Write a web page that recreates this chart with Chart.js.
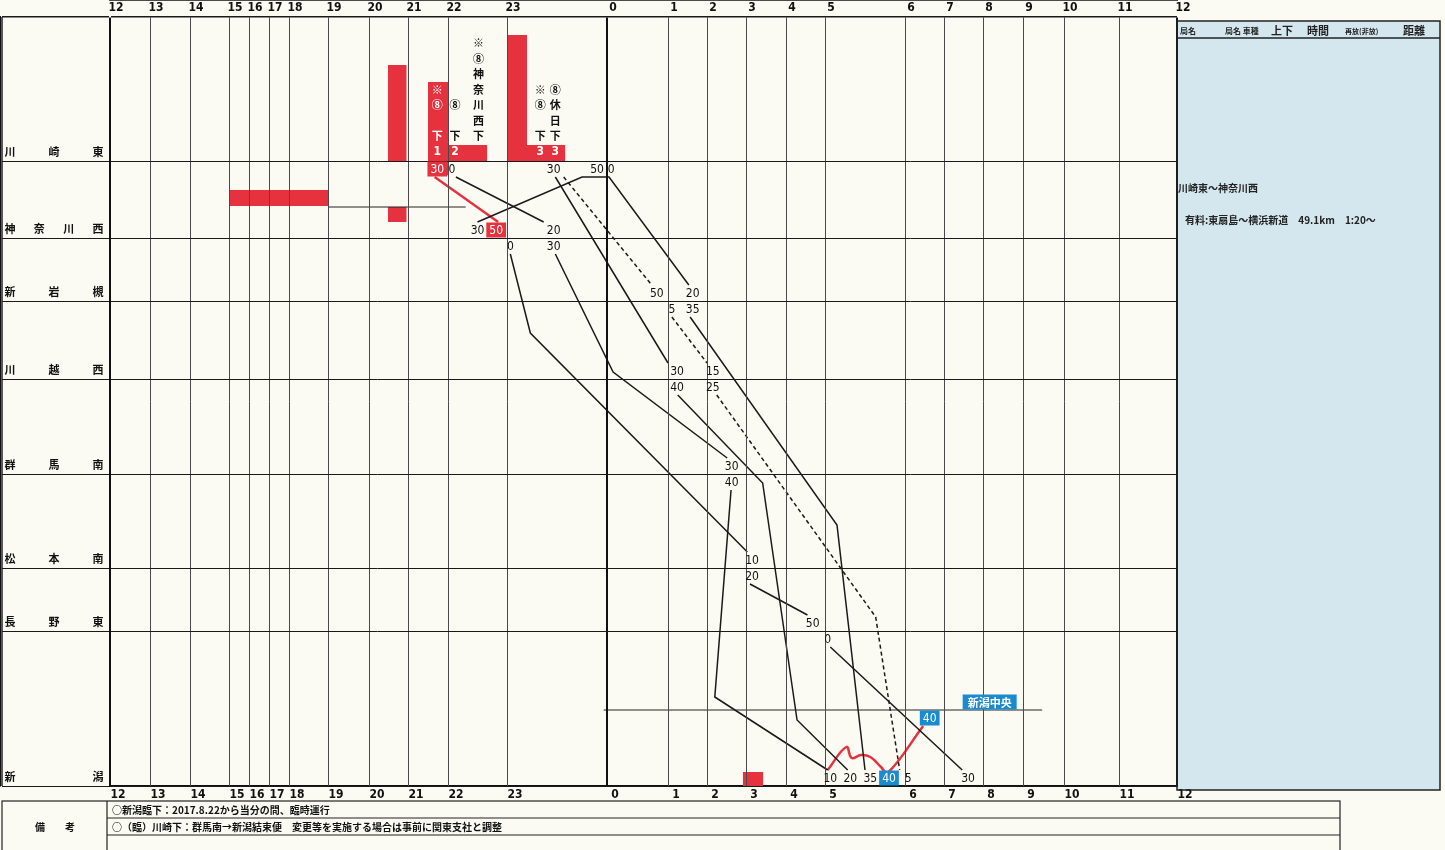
<!DOCTYPE html>
<html lang="ja">
<head>
<meta charset="utf-8">
<title>ダイヤグラム 川崎東～新潟</title>
<script src="https://cdn.jsdelivr.net/npm/chart.js@4.4.1/dist/chart.umd.min.js"></script>
<style>
  html, body { margin: 0; padding: 0; background: #fbfbf4; }
  #wrap { width: 1445px; height: 850px; }
</style>
</head>
<body>
<div id="wrap"><canvas id="dia" width="1445" height="850"></canvas></div>
<script>
// Hour columns, 12:00 -> next day 12:00 (columns are not equal width on the sheet)
const hourLabels = ['12','13','14','15','16','17','18','19','20','21','22','23','0','1','2','3','4','5','6','7','8','9','10','11','12'];
const hourWidths = [40,40,39,20,20,20,39,41,39,40,59,100,61,39,39,40,39,80,39,39,40,41,55,58];

// Stations down the sheet and their distance on the diagram
const stations   = ['川崎東','神奈川西','新岩槻','川越西','群馬南','松本南','長野東','新潟中央','新潟'];
const stationPos = [144, 221, 284, 362, 457, 551, 614, 693, 769];

// Train paths: [time, station or diagram position, side] ; null = pen lifted
const rinjiRed = [['21:40','川崎東','d'], ['22:51','神奈川西','u']];
const rinjiBlack = [['23:02','神奈川西','d'], ['23:14',316], ['3:02','松本南','u'], null,
                    ['3:06','松本南','d'], ['4:33','長野東','u'], null,
                    ['5:04','長野東','d'], ['7:28','新潟','u']];
const down2 = [['22:08','川崎東','d'], ['23:22','神奈川西','u'], null,
               ['23:29','神奈川西','d'], ['0:06',355], ['2:31','群馬南','u'], null,
               ['2:37','群馬南','d'], ['2:12',680], ['5:02','新潟','u']];
const down3 = [['23:29','川崎東','d'], ['1:00','川越西','u'], null,
               ['1:15','川越西','d'], ['3:25',466], ['4:17',703], ['5:17','新潟','u']];
const down3Holiday = [['23:34','川崎東','d'], ['0:44','新岩槻','u'], null,
                      ['1:06','新岩槻','d'], ['2:00','川越西','u'], null,
                      ['2:15','川越西','d'], ['5:38',600], ['5:56','新潟','u']];
const viaKanagawa = [['22:30','神奈川西','u'], ['23:45','川崎東','d'], ['0:02','川崎東','d'], ['1:32','新岩槻','u'], null,
                     ['1:34','新岩槻','d'], ['5:09',508], ['5:30','新潟','u']];
const chuoShuttle = [['5:02','新潟','u'], ['5:16',730], ['5:20',741], ['5:27',738], ['5:34',740],
                     ['5:42',750], ['5:47',756], ['6:28','新潟中央','d']];
const guideLine = [['19:00',190], ['22:18',190]];
const chuoLine  = [['23:58','新潟中央'], ['9:28','新潟中央']];

// Red blocks: [from, to, top, bottom]
const redBlocks = [
  ['20:29','20:58', 48, 144],
  ['20:29','20:58', 190, 205],
  ['21:30','22:00', 65, 158],
  ['22:00','22:40', 128, 144],
  ['23:00','23:12', 18, 144],
  ['23:12','23:35', 128, 144],
  ['15:00','19:00', 173, 189],
  ['2:55','3:26', 755, 769]
];

// Minute labels: [time, station, side, text, box]
const minuteLabels = [
  ['21:44','川崎東','d','30','red'], ['22:04','川崎東','d','0'], ['23:28','川崎東','d','30'],
  ['23:54','川崎東','d','50'], ['0:04','川崎東','d','0'],
  ['22:30','神奈川西','u','30'], ['22:49','神奈川西','u','50','red'], ['23:28','神奈川西','u','20'],
  ['23:02','神奈川西','d','0'], ['23:28','神奈川西','d','30'],
  ['0:49','新岩槻','u','50'], ['1:38','新岩槻','u','20'], ['1:06','新岩槻','d','5'], ['1:38','新岩槻','d','35'],
  ['1:14','川越西','u','30'], ['2:09','川越西','u','15'], ['1:14','川越西','d','40'], ['2:09','川越西','d','25'],
  ['2:38','群馬南','u','30'], ['2:38','群馬南','d','40'],
  ['3:09','松本南','u','10'], ['3:09','松本南','d','20'],
  ['4:41','長野東','u','50'], ['5:02','長野東','d','0'],
  ['5:04','新潟','u','10'], ['5:19','新潟','u','20'], ['5:34','新潟','u','35'], ['5:48','新潟','u','40','blue'],
  ['6:05','新潟','u','5'], ['7:37','新潟','u','30'],
  ['6:38','新潟中央','d','40','blue'], ['8:10','新潟中央','u','新潟中央','blue']
];

// Vertical notes above 川崎東 (7 rows, top to bottom) and train numbers
const noteCols = [
  ['21:44', '　　　※⑧　下', '#fff'],
  ['22:07', '　　　　⑧　下', '#111'],
  ['22:31', '※⑧神奈川西下', '#111'],
  ['23:20', '　　　※⑧　下', '#111'],
  ['23:29', '　　　⑧休日下', '#111']
];
const trainNos = [['21:44','1'], ['22:07','2'], ['23:20','3'], ['23:29','3']];

const remarks = [
  '○新潟臨下：2017.8.22から当分の間、臨時運行',
  '○（臨）川崎下：群馬南→新潟結束便　変更等を実施する場合は事前に関東支社と調整'
];

const RED = '#e5323e';
const BLUE = '#1b8bd0';
const GAP = 16;   // room left between a line end and its station line
const LBL = 8;    // minute label distance from station line
const NUM_FONT = '"Liberation Sans Narrow", "DejaVu Sans Condensed", sans-serif';
const JP_FONT = '"Noto Sans CJK JP", sans-serif';

const hourEdges = hourWidths.reduce((a, w) => { a.push(a[a.length - 1] + w); return a; }, [0]);
const X_MAX = hourEdges[hourEdges.length - 1];
const Y_MAX = stationPos[stationPos.length - 1];

// time "H:MM" -> position on the x axis
function tx(t) {
  const [h, m] = t.split(':').map(Number);
  const i = (h + 12) % 24;
  return hourEdges[i] + hourWidths[i] * m / 60;
}

function py(st, side, off) {
  if (typeof st === 'number') return st;
  const p = stationPos[stations.indexOf(st)];
  if (side === 'u') return p - off;
  if (side === 'd') return p + off;
  return p;
}

function toPoints(path) {
  let lastX = 0;
  return path.map(p => {
    if (!p) return { x: lastX, y: null };
    lastX = tx(p[0]);
    return { x: lastX, y: py(p[1], p[2], GAP) };
  });
}

function lineSet(path, color, width, dash, tension) {
  return {
    type: 'line', data: toPoints(path), borderColor: color, borderWidth: width,
    borderDash: dash || [], pointRadius: 0, tension: tension || 0, fill: false, order: 0
  };
}

const datasets = [];
redBlocks.forEach(b => {
  datasets.push({
    type: 'line',
    data: [{ x: tx(b[0]), y: b[2] }, { x: tx(b[1]), y: b[2] }],
    fill: { value: b[3] }, backgroundColor: RED, borderWidth: 0, pointRadius: 0, order: 2
  });
});
datasets.push(lineSet(guideLine, '#222', 1));
datasets.push(lineSet(chuoLine, '#222', 1));
datasets.push(lineSet(rinjiBlack, '#1a1a1a', 1.5));
datasets.push(lineSet(down2, '#1a1a1a', 1.5));
datasets.push(lineSet(down3, '#1a1a1a', 1.5));
datasets.push(lineSet(down3Holiday, '#1a1a1a', 1.5, [4, 3]));
datasets.push(lineSet(viaKanagawa, '#1a1a1a', 1.5));
datasets.push(lineSet(rinjiRed, RED, 2.5));
datasets.push(lineSet(chuoShuttle, RED, 2.5, null, 0.4));

function isHeavyHour(i) {
  return i === 0 || i === hourLabels.length - 1 || hourLabels[i] === '0';
}

const diagramDecor = {
  id: 'diagramDecor',
  beforeDraw(chart) {
    const { ctx } = chart;
    const a = chart.chartArea;
    ctx.save();
    ctx.fillStyle = '#fbfbf4';
    ctx.fillRect(0, 0, chart.width, chart.height);
    ctx.fillStyle = '#d4e7ef';
    ctx.fillRect(a.right, 21, 1440 - a.right, 769);
    ctx.restore();
  },
  afterDraw(chart) {
    const { ctx } = chart;
    const a = chart.chartArea;
    const xs = chart.scales.x, ys = chart.scales.y;
    ctx.save();

    // info panel on the right
    ctx.strokeStyle = '#222';
    ctx.lineWidth = 1.5;
    ctx.strokeRect(a.right, 21, 1440 - a.right, 769);
    ctx.beginPath(); ctx.moveTo(a.right, 38); ctx.lineTo(1440, 38); ctx.stroke();
    ctx.fillStyle = '#222';
    ctx.textBaseline = 'alphabetic';
    ctx.textAlign = 'left';
    ctx.font = 'bold 8px ' + JP_FONT;
    ctx.fillText('局名', 1180, 34);
    ctx.fillText('局名 車種', 1225, 34);
    ctx.font = 'bold 7px ' + JP_FONT;
    ctx.fillText('再放(非放)', 1345, 34);
    ctx.font = 'bold 11px ' + JP_FONT;
    ctx.fillText('上下', 1271, 35);
    ctx.fillText('時間', 1307, 35);
    ctx.fillText('距離', 1403, 35);
    ctx.font = 'bold 10px ' + JP_FONT;
    ctx.fillText('川崎東～神奈川西', 1178, 192);
    ctx.fillText('有料:東扇島～横浜新道　49.1km　1:20～', 1185, 224);

    // left column frame + station names
    ctx.lineWidth = 1.5;
    ctx.beginPath(); ctx.moveTo(2, a.top); ctx.lineTo(2, a.bottom); ctx.stroke();
    ctx.font = 'bold 11px ' + JP_FONT;
    ctx.textAlign = 'center';
    ctx.textBaseline = 'middle';
    ctx.fillStyle = '#111';
    stations.forEach((s, i) => {
      if (s === '新潟中央') return;
      const chars = [...s];
      const y = ys.getPixelForValue(stationPos[i]) - 9;
      chars.forEach((c, k) => ctx.fillText(c, 10 + k * 88 / (chars.length - 1), y));
    });

    // vertical notes above 川崎東
    noteCols.forEach(([t, txt, color]) => {
      const x = xs.getPixelForValue(tx(t));
      ctx.fillStyle = color;
      [...txt].forEach((c, i) => {
        if (c === '　') return;
        ctx.fillText(c, x, ys.getPixelForValue(stationPos[0] - 25 - (6 - i) * 15.5));
      });
    });
    ctx.font = 'bold 12px ' + NUM_FONT;
    ctx.fillStyle = '#fff';
    trainNos.forEach(([t, n]) => {
      ctx.fillText(n, xs.getPixelForValue(tx(t)), ys.getPixelForValue(stationPos[0] - 9));
    });

    // minute labels
    minuteLabels.forEach(([t, st, side, txt, box]) => {
      const x = xs.getPixelForValue(tx(t));
      const y = ys.getPixelForValue(py(st, side, LBL));
      const jp = /[^\d]/.test(txt);
      ctx.font = jp ? 'bold 11px ' + JP_FONT : '12px ' + NUM_FONT;
      if (box) {
        const w = ctx.measureText(txt).width + (jp ? 10 : 6);
        ctx.fillStyle = box === 'red' ? RED : BLUE;
        ctx.fillRect(x - w / 2, y - 7.5, w, 15);
        ctx.fillStyle = '#fff';
      } else {
        ctx.fillStyle = '#111';
      }
      ctx.fillText(txt, x, y + 0.5);
    });

    // remarks table
    ctx.strokeStyle = '#222';
    ctx.lineWidth = 1.2;
    ctx.strokeRect(2, 801, 1338, 60);
    ctx.beginPath();
    ctx.moveTo(107, 801); ctx.lineTo(107, 850);
    ctx.moveTo(107, 818); ctx.lineTo(1340, 818);
    ctx.moveTo(107, 835); ctx.lineTo(1340, 835);
    ctx.stroke();
    ctx.fillStyle = '#111';
    ctx.font = 'bold 10px ' + JP_FONT;
    ctx.fillText('備　　考', 55, 827);
    ctx.textAlign = 'left';
    remarks.forEach((r, i) => ctx.fillText(r, 112, 810 + i * 17));
    ctx.restore();
  }
};

const hourTicks = scale => { scale.ticks = hourEdges.map(v => ({ value: v })); };

new Chart(document.getElementById('dia'), {
  type: 'line',
  data: { datasets: datasets },
  options: {
    responsive: false,
    animation: false,
    events: [],
    layout: { padding: { left: 0, right: 268, top: 0, bottom: 0 } },
    plugins: { legend: { display: false }, tooltip: { enabled: false } },
    scales: {
      x: {
        type: 'linear', position: 'top', min: 0, max: X_MAX,
        afterBuildTicks: hourTicks,
        afterFit: s => { s.height = 17; },
        grid: {
          z: 1, drawTicks: false,
          color: c => isHeavyHour(c.index) ? '#111' : '#4a4a4a',
          lineWidth: c => isHeavyHour(c.index) ? 2 : 1
        },
        border: { color: '#111', width: 1.5 },
        ticks: {
          autoSkip: false, maxRotation: 0, padding: 2, labelOffset: 6, color: '#111',
          font: { family: NUM_FONT, size: 12, weight: 'bold' },
          callback: (v, i) => hourLabels[i]
        }
      },
      x2: {
        type: 'linear', position: 'bottom', min: 0, max: X_MAX,
        afterBuildTicks: hourTicks,
        afterFit: s => { s.height = 64; },
        grid: { display: false, drawTicks: false },
        border: { color: '#111', width: 2 },
        ticks: {
          autoSkip: false, maxRotation: 0, padding: 2, labelOffset: 8, color: '#111',
          font: { family: NUM_FONT, size: 12, weight: 'bold' },
          callback: (v, i) => hourLabels[i]
        }
      },
      y: {
        type: 'linear', position: 'left', min: 0, max: Y_MAX, reverse: true,
        afterBuildTicks: s => {
          s.ticks = [0].concat(stationPos.filter((p, i) => stations[i] !== '新潟中央')).map(v => ({ value: v }));
        },
        afterFit: s => { s.width = 110; },
        grid: {
          z: 1, drawTicks: true, tickLength: 108,
          color: '#1a1a1a', lineWidth: c => c.index === 0 ? 1.5 : 1
        },
        border: { color: '#111', width: 2 },
        ticks: { display: false }
      }
    }
  },
  plugins: [diagramDecor]
});
</script>
</body>
</html>
